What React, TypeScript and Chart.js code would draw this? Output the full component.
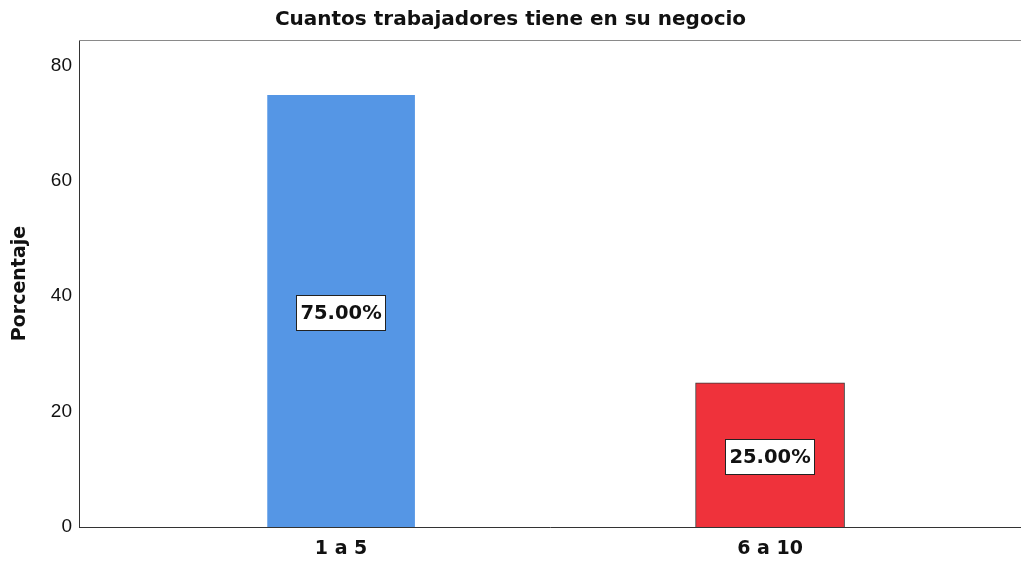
import React, { useEffect, useRef } from "react";
import { Chart, registerables } from "chart.js";

Chart.register(...registerables);

const categories = ["1 a 5", "6 a 10"];
const positions = [1, 2];
const values = [75, 25];
const valueLabels = ["75.00%", "25.00%"];
const barColors = ["#5596E5", "#EF323B"];
const barBorders = ["rgba(0,0,0,0)", "#3a3a3a"];
const yTicks = [0, 20, 40, 60, 80];
const titleText = "Cuantos trabajadores tiene en su negocio";
const yTitle = "Porcentaje";

const BOLD = "'DejaVu Sans', 'Liberation Sans', Arial, sans-serif";
const REG = "'Liberation Sans', Arial, sans-serif";

const boxPlugin = {
  id: "boxLabels",
  afterDatasetsDraw(chart: any) {
    const ctx = chart.ctx;
    const xs = chart.scales.x;
    const ys = chart.scales.y;
    const area = chart.chartArea;
    ctx.save();
    ctx.strokeStyle = "#8a8a8a";
    ctx.lineWidth = 1;
    ctx.beginPath();
    ctx.moveTo(area.left, Math.round(area.top) + 0.5);
    ctx.lineTo(area.right, Math.round(area.top) + 0.5);
    ctx.stroke();
    ctx.font = `bold 19.5px ${BOLD}`;
    ctx.textAlign = "center";
    ctx.textBaseline = "middle";
    values.forEach((v, i) => {
      const cx = xs.getPixelForValue(positions[i]);
      const cy = ys.getPixelForValue(v / 2) + 2;
      const txt = valueLabels[i];
      const w = ctx.measureText(txt).width + 8;
      const h = 35;
      ctx.fillStyle = "#ffffff";
      ctx.fillRect(Math.round(cx - w / 2), Math.round(cy - h / 2), Math.round(w), h);
      ctx.strokeStyle = "#222";
      ctx.lineWidth = 1;
      ctx.strokeRect(Math.round(cx - w / 2) + 0.5, Math.round(cy - h / 2) + 0.5, Math.round(w), h);
      ctx.fillStyle = "#111";
      ctx.fillText(txt, cx, cy + 1);
    });
    ctx.restore();
  },
};

export default function App() {
  const ref = useRef<HTMLCanvasElement>(null);
  useEffect(() => {
    document.body.style.margin = "0";
    const chart = new Chart(ref.current!, {
      type: "bar",
      data: {
        datasets: [
          {
            data: positions.map((p, i) => ({ x: p, y: values[i] })),
            backgroundColor: barColors,
            borderColor: barBorders,
            borderWidth: 1,
            barThickness: 149,
          } as any,
        ],
      },
      options: {
        animation: false,
        responsive: false,
        maintainAspectRatio: false,
        layout: { padding: 0 },
        plugins: {
          legend: { display: false },
          tooltip: { enabled: false },
          title: {
            display: true,
            text: titleText,
            color: "#111",
            font: { family: BOLD, size: 20, weight: "bold" },
            padding: { top: 8, bottom: 8 },
          },
        },
        scales: {
          x: {
            type: "linear",
            offset: false,
            min: 0.389,
            max: 2.585,
            afterBuildTicks(scale: any) {
              scale.ticks = positions.map((p) => ({ value: p }));
            },
            afterFit(scale: any) {
              scale.height = 34;
            },
            grid: { display: false, drawTicks: false },
            border: { display: true, color: "#333", width: 1 },
            ticks: {
              padding: 11,
              color: "#111",
              font: { family: BOLD, size: 19, weight: "bold" },
              callback: (v: any) => {
                const i = positions.indexOf(Number(v));
                return i >= 0 ? categories[i] : "";
              },
            },
          },
          y: {
            min: 0,
            max: 84.4,
            afterBuildTicks(scale: any) {
              scale.ticks = yTicks.map((t) => ({ value: t }));
            },
            afterFit(scale: any) {
              scale.width = 79;
            },
            grid: { display: false, drawTicks: false },
            border: { display: true, color: "#333", width: 1 },
            ticks: {
              padding: 7,
              color: "#111",
              font: { family: REG, size: 19 },
            },
            title: {
              display: true,
              text: yTitle,
              color: "#111",
              font: { family: BOLD, size: 19, weight: "bold" },
              padding: { top: 9, bottom: 0 },
            },
          },
        },
      },
      plugins: [boxPlugin],
    });
    return () => chart.destroy();
  }, []);
  return <canvas ref={ref} width={1021} height={561} style={{ display: "block" }} />;
}
